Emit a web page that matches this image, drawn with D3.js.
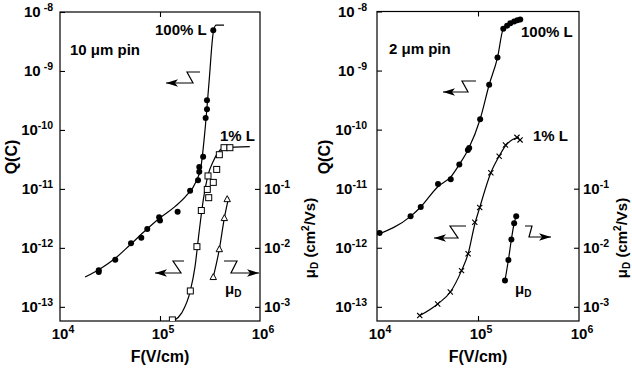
<!DOCTYPE html>
<html><head><meta charset="utf-8">
<script src="https://cdn.jsdelivr.net/npm/d3@7"></script>
<style>
html,body{margin:0;padding:0;background:#fff;}
svg{display:block;font-family:"Liberation Sans",Arial,Helvetica,sans-serif;font-weight:bold;}
</style></head>
<body><svg id="c" width="632" height="372"></svg>
<script>
// ---------------- DATA ----------------
const qTicks = [1e-8, 1e-9, 1e-10, 1e-11, 1e-12, 1e-13];
const qTickExp = ["-8", "-9", "-10", "-11", "-12", "-13"];
const fTicks = [1e4, 1e5, 1e6];
const fTickExp = ["4", "5", "6"];
const muTicks = [1e-1, 1e-2, 1e-3];
const muTickExp = ["-1", "-2", "-3"];

// Left panel: 10 um pin  [F (V/cm), Q (C)]
const pin10Q100 = [[2.44e4,4.17e-13],[2.44e4,3.9e-13],[3.57e4,6.3e-13],[5.13e4,1.2e-12],[6.5e4,1.48e-12],
  [7.46e4,2.1e-12],[9.8e4,3.3e-12],[1.0e5,2.9e-12],[1.5e5,4.1e-12],[2.0e5,9.3e-12],[2.4e5,1.4e-11],
  [2.47e5,1.95e-11],[2.47e5,2.35e-11],[2.7e5,3.5e-11],[2.86e5,1.6e-10],[2.95e5,2.25e-10],[2.95e5,3.2e-10],[3.41e5,4.9e-9]];
const pin10Q100Fit = [[1.78e4,3.2e-13],[2.51e4,4.4e-13],[3.55e4,6.6e-13],[5.0e4,1.12e-12],[7.1e4,1.95e-12],
  [1.0e5,3.24e-12],[1.41e5,5.0e-12],[1.86e5,7.9e-12],[2.29e5,1.32e-11],[2.57e5,2.4e-11],[2.82e5,1.0e-10],
  [3.09e5,6.3e-10],[3.41e5,4.5e-9],[3.63e5,6.0e-9],[4.37e5,6.0e-9]];
const pin10Q1 = [[1.33e5,6.0e-14],[2.01e5,1.86e-13],[2.34e5,1.05e-12],[2.59e5,4.3e-12],[3.07e5,7.1e-12],
  [2.97e5,9.8e-12],[3.41e5,1.29e-11],[3.02e5,1.66e-11],[3.69e5,2.14e-11],[3.92e5,3.8e-11],[4.37e5,5.0e-11],[5.0e5,5.0e-11]];
const pin10Q1Fit = [[1.36e5,5.75e-14],[1.65e5,7.9e-14],[2.01e5,1.86e-13],[2.24e5,4.8e-13],[2.45e5,1.74e-12],
  [2.71e5,6.5e-12],[3.04e5,1.78e-11],[3.41e5,2.95e-11],[3.83e5,4.2e-11],[4.37e5,5.0e-11],[7.9e5,5.2e-11]];
const pin10Mu = [[3.41e5,3.2e-3],[3.92e5,9.5e-3],[4.4e5,3.2e-2],[4.7e5,6.7e-2]];
const pin10MuFit = [[3.41e5,3.2e-3],[3.92e5,9.5e-3],[4.4e5,3.2e-2],[4.86e5,7.1e-2]];

// Right panel: 2 um pin
const pin2Q100 = [[1.06e4,1.78e-12],[2.15e4,3.4e-12],[2.71e4,4.9e-12],[4.02e4,1.2e-11],[5.37e4,1.45e-11],
  [6.53e4,2.57e-11],[7.94e4,4.5e-11],[8.18e4,4.9e-11],[1.05e5,1.5e-10],[1.29e5,5.75e-10],[1.56e5,1.66e-9],
  [1.78e5,5.1e-9],[1.94e5,5.75e-9],[2.09e5,6.3e-9],[2.28e5,6.8e-9],[2.45e5,7.1e-9],[2.62e5,7.3e-9]];
const pin2Q100Fit = [[1.0e4,1.66e-12],[2.15e4,3.4e-12],[2.71e4,4.9e-12],[3.98e4,1.07e-11],[5.37e4,1.58e-11],
  [6.53e4,2.57e-11],[8.04e4,4.7e-11],[1.05e5,1.5e-10],[1.29e5,5.75e-10],[1.56e5,1.66e-9],[1.78e5,5.1e-9],
  [2.09e5,6.3e-9],[2.62e5,7.3e-9]];
const pin2Q1 = [[2.65e4,7.1e-14],[3.99e4,1.12e-13],[5.32e4,1.78e-13],[6.87e4,4.1e-13],[7.98e4,7.9e-13],
  [9.29e4,2.7e-12],[1.04e5,4.8e-12],[1.34e5,1.86e-11],[1.62e5,3.55e-11],[1.87e5,5.5e-11],[2.43e5,7.4e-11],[2.61e5,6.7e-11]];
const pin2Q1Fit = [[2.65e4,7.1e-14],[3.99e4,1.12e-13],[5.32e4,1.78e-13],[6.87e4,4.1e-13],[7.98e4,7.9e-13],
  [9.29e4,2.5e-12],[1.04e5,4.8e-12],[1.34e5,1.86e-11],[1.62e5,3.55e-11],[1.87e5,5.3e-11],[2.2e5,6.8e-11],[2.55e5,7.3e-11]];
const pin2Mu = [[1.85e5,2.8e-3],[2.0e5,6.2e-3],[2.14e5,1.38e-2],[2.28e5,2.6e-2],[2.39e5,3.4e-2]];

// ---------------- DRAW ----------------
const svg = d3.select("#c");
const FS = 15;

function supText(sel, base, exp, opts) {
  const t = sel.append("text").attr("x", opts.x).attr("y", opts.y)
    .attr("text-anchor", opts.anchor || "start").attr("font-size", FS);
  t.append("tspan").text(base);
  t.append("tspan").attr("font-size", 10.5).attr("dy", -6).attr("dx", opts.gap || 0).text(exp);
  return t;
}

function panel(cfg) {
  const g = svg.append("g");
  const x = d3.scaleLog().domain([1e4, 1e6]).range([cfg.x0, cfg.x1]);
  const y = d3.scaleLog().domain([1e-8, Math.pow(10, -13.24)]).range([cfg.y0, cfg.y1]);
  const mu = d3.scaleLog().domain([1e2, Math.pow(10, -3.24)]).range([cfg.y0, cfg.y1]);
  const id = "clip" + cfg.x0;
  svg.append("clipPath").attr("id", id).append("rect")
    .attr("x", cfg.x0).attr("y", cfg.y0).attr("width", cfg.x1 - cfg.x0).attr("height", cfg.y1 - cfg.y0);

  const ax = [
    g.append("g").attr("transform", `translate(${cfg.x0},0)`).call(d3.axisLeft(y).tickValues(qTicks).tickSize(-5).tickFormat("")),
    g.append("g").attr("transform", `translate(0,${cfg.y1})`).call(d3.axisBottom(x).tickValues([1e5]).tickSize(-5).tickFormat("")),
    g.append("g").attr("transform", `translate(0,${cfg.y0})`).call(d3.axisTop(x).tickValues([1e5]).tickSize(-5).tickFormat("")),
    g.append("g").attr("transform", `translate(${cfg.x1},0)`).call(d3.axisRight(mu).tickValues(muTicks).tickSize(-5).tickFormat(""))
  ];
  ax.forEach(a => { a.select(".domain").remove(); a.selectAll("line").attr("stroke", "#000").attr("stroke-width", 1.1); });
  g.append("rect").attr("x", cfg.x0).attr("y", cfg.y0).attr("width", cfg.x1 - cfg.x0).attr("height", cfg.y1 - cfg.y0)
    .attr("fill", "none").attr("stroke", "#000").attr("stroke-width", 1.2);

  qTicks.forEach((v, i) => supText(g, "10", qTickExp[i], {x: cfg.x0 - cfg.lgap, y: y(v) + 5, anchor: "end", gap: i < 2 ? 3 : 0}));
  fTicks.forEach((v, i) => supText(g, "10", fTickExp[i], {x: x(v) + 3, y: cfg.y1 + 18, anchor: "middle"}));
  muTicks.forEach((v, i) => supText(g, "10", muTickExp[i], {x: cfg.x1 + 4, y: mu(v) + 5, anchor: "start"}));

  g.append("text").attr("transform", `translate(${cfg.x0 - cfg.qoff},157) rotate(-90)`).attr("text-anchor", "middle")
    .attr("font-size", 16).text("Q(C)");
  g.append("text").attr("x", (cfg.x0 + cfg.x1) / 2).attr("y", 362).attr("text-anchor", "middle")
    .attr("font-size", 16).text("F(V/cm)");
  const mt = g.append("text").attr("transform", `translate(${Math.min(cfg.x1 + 55, 627)},238) rotate(-90)`).attr("text-anchor", "middle").attr("font-size", 15);
  mt.append("tspan").text("\u03bc");
  mt.append("tspan").attr("font-size", 10).attr("dy", 3).text("D");
  mt.append("tspan").attr("dy", -3).text(" (cm");
  mt.append("tspan").attr("font-size", 10).attr("dy", -6).text("2");
  mt.append("tspan").attr("dy", 6).text("/Vs)");

  const pl = g.append("g").attr("clip-path", `url(#${id})`);
  const lineQ = d3.line().x(d => x(d[0])).y(d => y(d[1])).curve(d3.curveMonotoneX);
  const lineM = d3.line().x(d => x(d[0])).y(d => mu(d[1])).curve(d3.curveMonotoneX);
  cfg.linesQ.forEach(L => pl.append("path").attr("d", lineQ(L)).attr("fill", "none").attr("stroke", "#000").attr("stroke-width", 1.2));
  pl.append("path").attr("d", lineM(cfg.lineMu)).attr("fill", "none").attr("stroke", "#000").attr("stroke-width", 1.2);

  return {g, pl, x, y, mu};
}

function circles(p, data, sc) {
  p.pl.selectAll(null).data(data).enter().append("circle")
    .attr("cx", d => p.x(d[0])).attr("cy", d => sc(d[1])).attr("r", 3).attr("fill", "#000");
}
function squares(p, data) {
  p.pl.selectAll(null).data(data).enter().append("rect")
    .attr("x", d => p.x(d[0]) - 3).attr("y", d => p.y(d[1]) - 3).attr("width", 6).attr("height", 6)
    .attr("fill", "#fff").attr("stroke", "#000").attr("stroke-width", 1);
}
function triangles(p, data) {
  p.pl.selectAll(null).data(data).enter().append("path")
    .attr("d", d => { const cx = p.x(d[0]), cy = p.mu(d[1]); return `M${cx},${cy - 3.5}L${cx + 3.2},${cy + 2.5}L${cx - 3.2},${cy + 2.5}Z`; })
    .attr("fill", "#fff").attr("stroke", "#000").attr("stroke-width", 1);
}
function crosses(p, data) {
  p.pl.selectAll(null).data(data).enter().append("path")
    .attr("d", d => { const cx = p.x(d[0]), cy = p.y(d[1]), s = 2.6; return `M${cx - s},${cy - s}L${cx + s},${cy + s}M${cx - s},${cy + s}L${cx + s},${cy - s}`; })
    .attr("fill", "none").attr("stroke", "#000").attr("stroke-width", 1.1);
}
function zArrow(g, pts) {
  const [a, b, c, t] = pts;
  g.append("path").attr("d", `M${a[0]},${a[1]}L${b[0]},${b[1]}L${c[0]},${c[1]}L${t[0]},${t[1]}`)
    .attr("fill", "none").attr("stroke", "#000").attr("stroke-width", 1.2);
  const dir = t[0] < c[0] ? 1 : -1;
  g.append("path").attr("d", `M${t[0]},${t[1]}L${t[0] + dir * 12},${t[1] - 3.8}L${t[0] + dir * 9},${t[1]}L${t[0] + dir * 12},${t[1] + 3.8}Z`)
    .attr("fill", "#000");
}
function label(g, x, y, txt) {
  g.append("text").attr("x", x).attr("y", y).attr("font-size", FS).text(txt);
}
function muLabel(g, x, y) {
  const t = g.append("text").attr("x", x).attr("y", y).attr("font-size", FS);
  t.append("tspan").text("\u03bc");
  t.append("tspan").attr("font-size", 10).attr("dy", 3).text("D");
}

// Left panel
const L = panel({x0: 60, x1: 260, y0: 12, y1: 321, lgap: 7, qoff: 43, linesQ: [pin10Q100Fit, pin10Q1Fit], lineMu: pin10MuFit});
circles(L, pin10Q100, L.y);
squares(L, pin10Q1);
triangles(L, pin10Mu);
label(L.g, 155, 35, "100% L");
label(L.g, 70, 55, "10 \u03bcm pin");
label(L.g, 220, 141, "1% L");
muLabel(L.g, 225, 294);
zArrow(L.g, [[200, 72], [187, 72], [193, 83], [166, 83]]);
zArrow(L.g, [[184, 261], [173, 261], [181, 273], [155, 273]]);
zArrow(L.g, [[224, 261], [237, 261], [231, 273], [259, 273]]);

// Right panel
const R = panel({x0: 377, x1: 579, y0: 11.5, y1: 321, lgap: 10, qoff: 47, linesQ: [pin2Q100Fit, pin2Q1Fit], lineMu: pin2Mu});
circles(R, pin2Q100, R.y);
crosses(R, pin2Q1);
circles(R, pin2Mu, R.mu);
label(R.g, 521, 37, "100% L");
label(R.g, 389, 54, "2 \u03bcm pin");
label(R.g, 533, 141, "1% L");
muLabel(R.g, 515, 294);
zArrow(R.g, [[476, 81], [462, 81], [468, 92], [443, 92]]);
zArrow(R.g, [[466, 226], [450, 226], [458, 238], [434, 238]]);
zArrow(R.g, [[525, 226], [532, 226], [529, 237], [551, 237]]);
</script></body></html>
